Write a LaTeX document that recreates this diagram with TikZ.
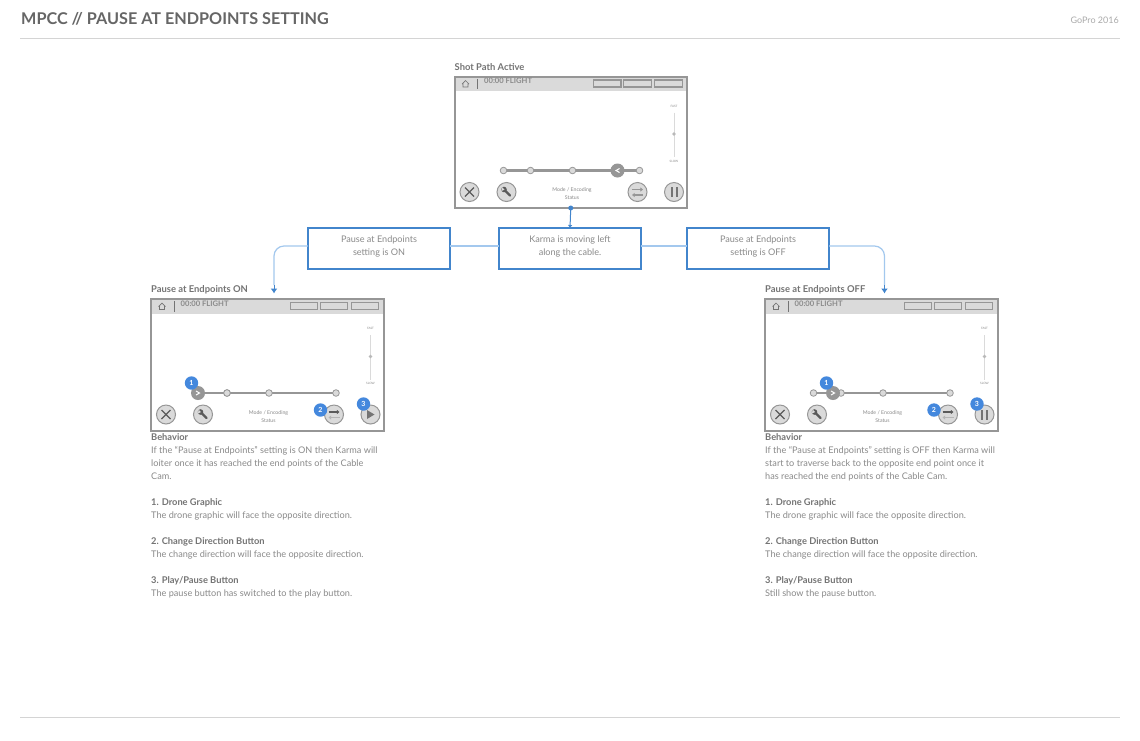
\documentclass[tikz,border=0pt]{standalone}
\usepackage{fontspec}
\setmainfont{Lato}
\usetikzlibrary{arrows.meta}
\definecolor{rulegray}{HTML}{D4D4D4}
\definecolor{framegray}{HTML}{969696}
\definecolor{bargray}{HTML}{DADADA}
\definecolor{titlegray}{HTML}{666666}
\definecolor{icongray}{HTML}{5A5A5A}
\definecolor{labelgray}{HTML}{747474}
\definecolor{textgray}{HTML}{8A8A8A}
\definecolor{badgeblue}{HTML}{4488DD}
\definecolor{boxblue}{HTML}{4285CC}
\definecolor{lineblue}{HTML}{A3C8EE}
\tikzset{
	screenframe/.style={draw=framegray, line width=2pt, fill=white, inner sep=0pt, outer sep=0pt, anchor=north west, minimum width=232.5pt, minimum height=131.5pt},
	tinytext/.style={inner sep=0pt, text=textgray, font=\fontsize{5.2}{5}\selectfont},
	speedtext/.style={inner sep=0pt, text=textgray, font=\fontsize{3}{3}\selectfont},
	flighttext/.style={inner sep=0pt, anchor=west, text=textgray, font=\bfseries\fontsize{7.6}{8}\selectfont},
	headtext/.style={inner sep=0pt, anchor=west, text=labelgray, font=\bfseries\fontsize{9.4}{10}\selectfont},
	bodytext/.style={inner sep=0pt, anchor=north west, align=left, text=textgray, font=\fontsize{9.15}{13}\selectfont},
	flowbox/.style={draw=boxblue, line width=1.6pt, fill=white, inner sep=0pt, outer sep=0pt, minimum width=142pt, minimum height=41pt, align=center, text=textgray, text depth=6pt, font=\fontsize{9.1}{13}\selectfont},
	badge/.style={circle, fill=badgeblue, inner sep=0pt, minimum size=13.4pt, text=white, font=\bfseries\fontsize{7}{7}\selectfont},
	button/.style={draw=framegray, line width=1pt, fill=bargray},
}
\newcommand{\notehead}[1]{\textcolor{labelgray}{\bfseries\fontsize{9.3}{13}\selectfont #1}}
% screen without its track and the two buttons at the right
\newcommand{\screenbody}{
	\node[screenframe] (frame) at (0, 0) {};
	\fill[bargray] (1, 1) rectangle (231.5, 14.5);
	\draw[line width=0.7pt, color=labelgray] (7.5, 7.5) -- (11, 4) -- (14.5, 7.5) (8.5, 7) -- (8.5, 10.5) -- (13.5, 10.5) -- (13.5, 7);
	\draw[line width=0.8pt, color=labelgray] (23, 2) -- (23, 12.5);
	\node[flighttext] (flight) at (29.5, 4.5) {00:00 FLIGHT};
	\draw[line width=1.3pt, color=framegray] (139.2, 3.5) rectangle (166.5, 10.5);
	\draw[line width=1.3pt, color=framegray] (169.2, 3.5) rectangle (196.8, 10.5);
	\draw[line width=1.3pt, color=framegray] (200.2, 3.5) rectangle (227.8, 10.5);
	\node[speedtext] (fast) at (219.5, 29.5) {FAST};
	\node[speedtext] (slow) at (219.5, 84.5) {SLOW};
	\draw[line width=0.8pt, color=bargray] (219.5, 36) -- (219.5, 80.5);
	\fill[bargray!85!black] (219.5, 57.5) circle (1.8pt);
	\node[tinytext] (mode) at (117.5, 114) {Mode / Encoding};
	\node[tinytext] (status) at (117.5, 121.5) {Status};
	\draw[button] (15, 115.5) circle (9.5pt);
	\draw[line width=1.3pt, color=icongray] (10.5, 111) -- (19.5, 120) (19.5, 111) -- (10.5, 120);
	\draw[button] (52, 115.5) circle (9.5pt);
	\draw[line width=2.2pt, line cap=round, color=icongray] (50.5, 114) -- (55.5, 119);
	\fill[icongray] (49.5, 113) circle (2.8pt);
	\fill[bargray] (47.5, 110.5) -- (50, 113) -- (47, 114.5) -- cycle;
}
\newcommand{\trackline}[5]{
	\draw[line width=2.4pt, color=framegray] (#1, 94) -- (185, 94);
	\draw[line width=0.8pt, color=framegray, fill=bargray] (#2, 94) circle (3.3pt);
	\draw[line width=0.8pt, color=framegray, fill=bargray] (#3, 94) circle (3.3pt);
	\draw[line width=0.8pt, color=framegray, fill=bargray] (#4, 94) circle (3.3pt);
	\draw[line width=0.8pt, color=framegray, fill=bargray] (#5, 94) circle (3.3pt);
}
\newcommand{\swapbutton}[2]{
	\draw[button] (183, 115.5) circle (9.5pt);
	\draw[-{Latex[length=2.6pt,width=4.6pt]}, line width=1.1pt, color=#1] (177.5, 113) -- (188.5, 113);
	\draw[-{Latex[length=2.6pt,width=4.6pt]}, line width=1.1pt, color=#2] (188.5, 118.5) -- (177.5, 118.5);
}
\newcommand{\pausebutton}{
	\draw[button] (219.5, 115.5) circle (9.5pt);
	\fill[labelgray] (216, 110.5) rectangle (218, 120.5);
	\fill[labelgray] (221, 110.5) rectangle (223, 120.5);
}
\newcommand{\playbutton}{
	\draw[button] (219.5, 115.5) circle (9.5pt);
	\fill[labelgray] (216, 111) -- (223.5, 115.5) -- (216, 120) -- cycle;
}
\begin{document}
\begin{tikzpicture}[x=1pt, y=-1pt]
	%%%%% PAGE %%%%%
	\useasboundingbox (0, 0) rectangle (1140, 740);
	\fill[white] (0, 0) rectangle (1140, 740);
	
	\node[inner sep=0pt, anchor=west, text=titlegray, font=\bfseries\fontsize{16.2}{18}\selectfont] (title) at (21, 19) {MPCC // PAUSE AT ENDPOINTS SETTING};
	\node[inner sep=0pt, anchor=east, text=rulegray!80!black, font=\fontsize{9}{10}\selectfont] (gopro) at (1119, 20) {GoPro 2016};
	\draw[line width=1pt, color=rulegray] (20, 38) -- (1120, 38);
	\draw[line width=1pt, color=rulegray] (20, 717) -- (1120, 717);
	
	%%%%% TOP SCREEN %%%%%
	\node[headtext] (toplabel) at (454.5, 67) {Shot Path Active};
	\begin{scope}[shift={(454.5, 76.5)}, name prefix=top-]
		\screenbody
		\trackline{49}{49}{76}{118}{185}
		\fill[framegray] (163, 94) circle (7pt);
		\draw[line width=1pt, color=white] (165, 92) -- (161.5, 94) -- (165, 96);
		\swapbutton{framegray}{framegray}
		\pausebutton
	\end{scope}
	
	%%%%% LEFT SCREEN %%%%%
	\node[headtext] (onlabel) at (151, 289.5) {Pause at Endpoints ON};
	\begin{scope}[shift={(151, 299)}, name prefix=on-]
		\screenbody
		\trackline{47}{76}{76}{118}{185}
		\fill[framegray] (47, 94) circle (7pt);
		\draw[line width=1pt, color=white] (45, 92) -- (48.5, 94) -- (45, 96);
		\swapbutton{icongray}{framegray!70}
		\playbutton
		\node[badge] (badgea) at (40.5, 84) {1};
		\node[badge] (badgeb) at (169.5, 111) {2};
		\node[badge] (badgec) at (212.5, 105) {3};
	\end{scope}
	
	%%%%% RIGHT SCREEN %%%%%
	\node[headtext] (offlabel) at (765, 289.5) {Pause at Endpoints OFF};
	\begin{scope}[shift={(765, 299)}, name prefix=off-]
		\screenbody
		\trackline{48.5}{48.5}{76}{118}{185}
		\fill[framegray] (68, 94) circle (7pt);
		\draw[line width=1pt, color=white] (66, 92) -- (69.5, 94) -- (66, 96);
		\swapbutton{icongray}{framegray!70}
		\pausebutton
		\node[badge] (badgea) at (61.5, 84) {1};
		\node[badge] (badgeb) at (169, 111) {2};
		\node[badge] (badgec) at (212, 105) {3};
	\end{scope}
	
	%%%%% FLOW %%%%%
	\node[flowbox] (moving) at (570, 248.5) {Karma is moving left\\along the cable.};
	\node[flowbox] (pauseon) at (379, 248.5) {Pause at Endpoints\\setting is ON};
	\node[flowbox] (pauseoff) at (758, 248.5) {Pause at Endpoints\\setting is OFF};
	\coordinate (onbend) at (274, 285);
	\coordinate (offbend) at (884.5, 285);
	\coordinate (onend) at (274, 293.5);
	\coordinate (offend) at (884.5, 293.5);
	\fill[boxblue] (top-frame.south) circle (2.5pt);
	\draw[-{Latex[length=3pt,width=4.5pt]}, line width=1pt, color=boxblue] (top-frame.south) -- (moving.north);
	\draw[line width=1.5pt, color=lineblue] ([yshift=2.5pt]moving.west) -- ([yshift=2.5pt]pauseon.east);
	\draw[line width=1.5pt, color=lineblue] ([yshift=2.5pt]moving.east) -- ([yshift=2.5pt]pauseoff.west);
	\draw[line width=1.2pt, color=lineblue, rounded corners=10pt] ([yshift=2.5pt]pauseon.west) -| (onbend);
	\draw[line width=1.2pt, color=lineblue, rounded corners=10pt] ([yshift=2.5pt]pauseoff.east) -| (offbend);
	\draw[-{Latex[length=5pt,width=7pt]}, line width=1pt, color=boxblue] (onbend) -- (onend);
	\draw[-{Latex[length=5pt,width=7pt]}, line width=1pt, color=boxblue] (offbend) -- (offend);
	
	%%%%% NOTES %%%%%
	\node[bodytext] (onnotes) at (151, 433.7) {\notehead{Behavior}\\
		If the “Pause at Endpoints” setting is ON then Karma will\\
		loiter once it has reached the end points of the Cable\\
		Cam.\\[13pt]
		\notehead{1. Drone Graphic}\\
		The drone graphic will face the opposite direction.\\[13pt]
		\notehead{2. Change Direction Button}\\
		The change direction will face the opposite direction.\\[13pt]
		\notehead{3. Play/Pause Button}\\
		The pause button has switched to the play button.};
	\node[bodytext] (offnotes) at (765, 433.7) {\notehead{Behavior}\\
		If the “Pause at Endpoints” setting is OFF then Karma will\\
		start to traverse back to the opposite end point once it\\
		has reached the end points of the Cable Cam.\\[13pt]
		\notehead{1. Drone Graphic}\\
		The drone graphic will face the opposite direction.\\[13pt]
		\notehead{2. Change Direction Button}\\
		The change direction will face the opposite direction.\\[13pt]
		\notehead{3. Play/Pause Button}\\
		Still show the pause button.};
\end{tikzpicture}
\end{document}
